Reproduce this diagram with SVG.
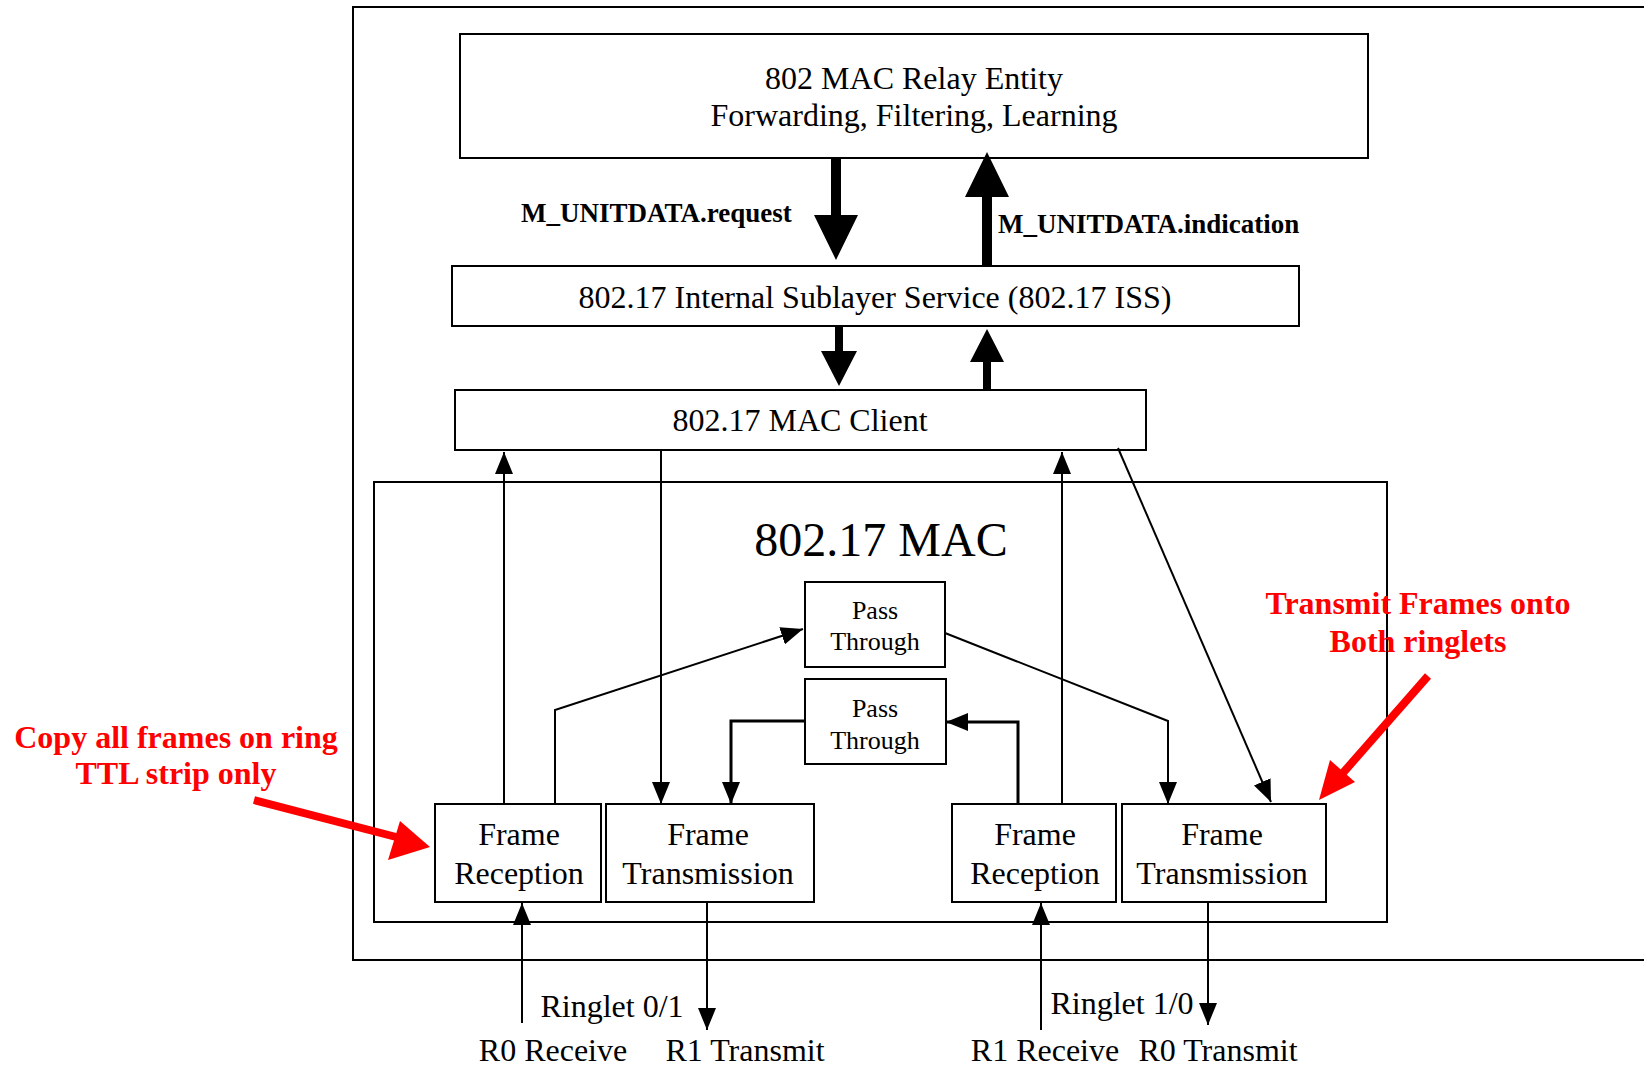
<svg xmlns="http://www.w3.org/2000/svg" width="1644" height="1067" viewBox="0 0 1644 1067">
<style>
.box{fill:#fff;stroke:#000;stroke-width:2}
.t{font-family:"Liberation Serif","Times New Roman",serif;font-size:32px;fill:#000;text-anchor:middle}
.tb{font-family:"Liberation Serif","Times New Roman",serif;font-size:27px;font-weight:bold;fill:#000}
.red{font-family:"Liberation Serif","Times New Roman",serif;font-size:32px;font-weight:bold;fill:#f00;text-anchor:middle}
.c{fill:none;stroke:#000;stroke-width:2}
</style>
<defs>
<marker id="ah" viewBox="0 0 22 18" refX="22" refY="9" markerWidth="22" markerHeight="18" markerUnits="userSpaceOnUse" orient="auto">
<path d="M0,0 L22,9 L0,18 z" fill="#000"/>
</marker>
</defs>
<rect x="0" y="0" width="1644" height="1067" fill="#fff"/>
<g id="outer"><rect x="353" y="7" width="1300" height="953" fill="none" stroke="#000" stroke-width="2"/></g>
<g id="relay"><rect class="box" x="460" y="34" width="908" height="124"/>
<text class="t" x="914" y="89">802 MAC Relay Entity</text>
<text class="t" x="914" y="126">Forwarding, Filtering, Learning</text></g>
<g id="iss"><rect class="box" x="452" y="266" width="847" height="60"/>
<text class="t" x="875" y="308">802.17 Internal Sublayer Service (802.17 ISS)</text></g>
<g id="client"><rect class="box" x="455" y="390" width="691" height="60"/>
<text class="t" x="800" y="431">802.17 MAC Client</text></g>
<g id="mac"><rect x="374" y="482" width="1013" height="440" fill="none" stroke="#000" stroke-width="2"/>
<text class="t" x="881" y="556" style="font-size:48px">802.17 MAC</text></g>
<g id="pass1"><rect class="box" x="805" y="582" width="140" height="85"/>
<text class="t" x="875" y="619" style="font-size:26px">Pass</text>
<text class="t" x="875" y="650" style="font-size:26px">Through</text></g>
<g id="pass2"><rect class="box" x="805" y="679" width="141" height="85"/>
<text class="t" x="875" y="717" style="font-size:26px">Pass</text>
<text class="t" x="875" y="749" style="font-size:26px">Through</text></g>
<g id="frL"><rect class="box" x="435" y="804" width="166" height="98"/>
<text class="t" x="519" y="845">Frame</text>
<text class="t" x="519" y="884">Reception</text></g>
<g id="ftL"><rect class="box" x="606" y="804" width="208" height="98"/>
<text class="t" x="708" y="845">Frame</text>
<text class="t" x="708" y="884">Transmission</text></g>
<g id="frR"><rect class="box" x="952" y="804" width="164" height="98"/>
<text class="t" x="1035" y="845">Frame</text>
<text class="t" x="1035" y="884">Reception</text></g>
<g id="ftR"><rect class="box" x="1122" y="804" width="204" height="98"/>
<text class="t" x="1222" y="845">Frame</text>
<text class="t" x="1222" y="884">Transmission</text></g>
<g id="connectors">
<polygon points="831,158 841,158 841,215 858,215 836,260 814,215 831,215" fill="#000"/>
<polygon points="982,266 992,266 992,197 1009,197 987,152 965,197 982,197" fill="#000"/>
<polygon points="835,326 843,326 843,351 857,351 839,386 821,351 835,351" fill="#000"/>
<polygon points="983,390 991,390 991,362 1004,362 987,329 970,362 983,362" fill="#000"/>
<text class="tb" x="521" y="222">M_UNITDATA.request</text>
<text class="tb" x="998" y="233">M_UNITDATA.indication</text>
<line class="c" x1="504" y1="804" x2="504" y2="452" marker-end="url(#ah)"/>
<line class="c" x1="661" y1="450" x2="661" y2="804" marker-end="url(#ah)"/>
<polyline class="c" points="555,804 555,710 803,629" marker-end="url(#ah)"/>
<polyline class="c" points="945,633 1168,721 1168,804" marker-end="url(#ah)"/>
<polyline class="c" style="stroke-width:3" points="805,721 731,721 731,804" marker-end="url(#ah)"/>
<polyline class="c" style="stroke-width:3" points="1018,804 1018,722 946,722" marker-end="url(#ah)"/>
<line class="c" x1="1062" y1="804" x2="1062" y2="452" marker-end="url(#ah)"/>
<line class="c" x1="1118" y1="448" x2="1271" y2="802" marker-end="url(#ah)"/>
<line class="c" x1="522" y1="1023" x2="522" y2="903" marker-end="url(#ah)"/>
<line class="c" x1="707" y1="902" x2="707" y2="1030" marker-end="url(#ah)"/>
<line class="c" x1="1041" y1="1030" x2="1041" y2="903" marker-end="url(#ah)"/>
<line class="c" x1="1208" y1="902" x2="1208" y2="1025" marker-end="url(#ah)"/>
<line x1="254" y1="800" x2="400" y2="838" stroke="#f00" stroke-width="8"/>
<polygon points="430,847 388,860 400,821" fill="#f00"/>
<line x1="1428" y1="676" x2="1342" y2="774" stroke="#f00" stroke-width="8"/>
<polygon points="1319,800 1330,760 1355,782" fill="#f00"/>
</g>
<g id="labels">
<text class="t" x="612" y="1017">Ringlet 0/1</text>
<text class="t" x="553" y="1061">R0 Receive</text>
<text class="t" x="745" y="1061">R1 Transmit</text>
<text class="t" x="1122" y="1014">Ringlet 1/0</text>
<text class="t" x="1045" y="1061">R1 Receive</text>
<text class="t" x="1218" y="1061">R0 Transmit</text>
<text class="red" x="176" y="748">Copy all frames on ring</text>
<text class="red" x="176" y="784">TTL strip only</text>
<text class="red" x="1418" y="614">Transmit Frames onto</text>
<text class="red" x="1418" y="652">Both ringlets</text>
</g>
</svg>
